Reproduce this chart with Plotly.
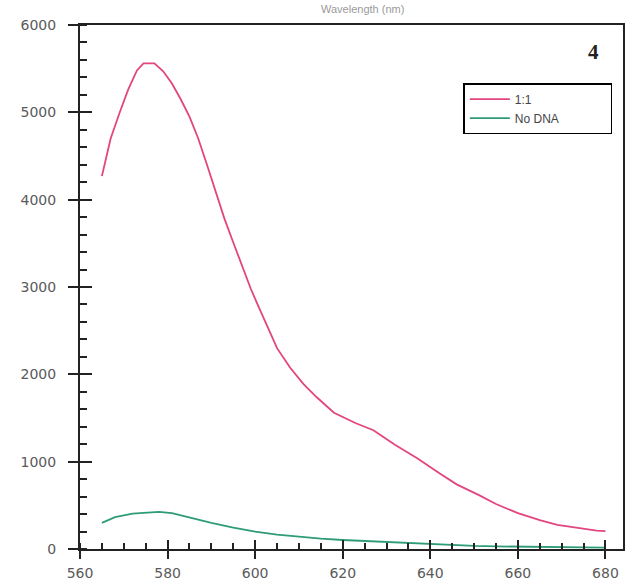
import plotly.graph_objects as go

# ---- data ----
wl_pink = [565, 567, 569, 571, 573, 574.5, 577, 579, 581, 583, 585, 587, 589, 591, 593,
           595, 597, 599, 601, 603, 605, 608, 611, 614, 618, 623, 627, 632, 637, 642,
           646, 651, 655, 660, 665, 669, 674, 678, 680]
int_pink = [4270, 4700, 4990, 5260, 5480, 5560, 5560, 5470, 5330, 5150, 4950, 4700, 4400, 4090, 3780,
            3510, 3250, 2980, 2750, 2520, 2300, 2075, 1890, 1740, 1560, 1440, 1360, 1190, 1040, 870,
            740, 620, 515, 410, 330, 275, 237, 210, 205]

wl_green = [565, 568, 572, 575, 578, 581, 585, 590, 595, 600, 605, 610, 615, 620, 625,
            630, 635, 640, 645, 650, 655, 660, 665, 670, 675, 680]
int_green = [300, 365, 405, 418, 425, 410, 360, 300, 245, 200, 165, 138, 118, 103, 92,
             80, 65, 52, 42, 35, 30, 25, 22, 20, 18, 15]

series_names = ["1:1", "No DNA"]
x_ticks = [560, 580, 600, 620, 640, 660, 680]
y_ticks = [0, 1000, 2000, 3000, 4000, 5000, 6000]
panel_label = "4"
top_title = "Wavelength (nm)"

PINK = "#e2457f"
GREEN = "#2e9c74"
TICKFONT = dict(family="DejaVu Sans", size=14, color="#5a5a5a")
XR = [560, 684]
YR = [0, 6000]

fig = go.Figure()
fig.add_trace(go.Scatter(x=wl_pink, y=int_pink, mode="lines", name=series_names[0] + "                     ",
                         line=dict(color=PINK, width=1.8)))
fig.add_trace(go.Scatter(x=wl_green, y=int_green, mode="lines", name=series_names[1] + "              ",
                         line=dict(color=GREEN, width=1.8)))
# invisible trace to activate overlay axes (inner half of crossing major ticks)
fig.add_trace(go.Scatter(x=wl_green, y=int_green, mode="lines", xaxis="x2", yaxis="y2",
                         line=dict(width=0), opacity=0, showlegend=False, hoverinfo="skip"))

fig.update_layout(
    width=626, height=582,
    margin=dict(l=80, r=1, t=25, b=33),
    paper_bgcolor="white", plot_bgcolor="white",
    showlegend=True,
    legend=dict(x=0.706, y=0.889, xanchor="left", yanchor="top",
                bgcolor="white", bordercolor="black", borderwidth=1.5,
                font=dict(family="Liberation Sans", size=12, color="#444"),
                tracegroupgap=0, itemwidth=40),
    xaxis=dict(range=XR, tickvals=x_ticks, ticktext=[str(v) for v in x_ticks],
               showgrid=False, zeroline=False,
               showline=True, linecolor="#222", linewidth=2, mirror=True,
               ticks="outside", ticklen=8, tickwidth=2, tickcolor="#222",
               minor=dict(ticks="inside", dtick=5, tick0=560, ticklen=6, tickwidth=1.5, tickcolor="#222", showgrid=False),
               tickfont=TICKFONT, ticklabelstandoff=2),
    yaxis=dict(range=YR, tickvals=y_ticks, ticktext=[str(v) for v in y_ticks],
               showgrid=False, zeroline=False,
               showline=True, linecolor="#222", linewidth=2, mirror=True,
               ticks="outside", ticklen=10, tickwidth=1.5, tickcolor="#222",
               minor=dict(ticks="inside", dtick=200, tick0=0, ticklen=7, tickwidth=1.5, tickcolor="#222", showgrid=False),
               tickfont=TICKFONT, ticklabelstandoff=9),
    xaxis2=dict(range=XR, overlaying="x", anchor="y2", side="bottom", tickvals=x_ticks,
                showticklabels=False, showgrid=False, zeroline=False, showline=False,
                ticks="inside", ticklen=9, tickwidth=2, tickcolor="#222"),
    yaxis2=dict(range=YR, overlaying="y", anchor="x2", side="left", tickvals=y_ticks,
                showticklabels=False, showgrid=False, zeroline=False, showline=False,
                ticks="inside", ticklen=12, tickwidth=1.5, tickcolor="#222"),
    annotations=[
        dict(text="<b>" + panel_label + "</b>", xref="paper", yref="paper", x=0.945, y=0.975,
             xanchor="center", yanchor="top", showarrow=False,
             font=dict(family="Liberation Serif", size=21, color="#222")),
        dict(text=top_title, xref="paper", yref="paper", x=0.52, y=1, xanchor="center",
             yanchor="bottom", yshift=8, showarrow=False,
             font=dict(family="Liberation Sans", size=11, color="#9a9a9a")),
    ],
)

fig.write_html("out.html", config={"displayModeBar": False},
               post_script="document.body.style.margin='0';document.body.style.overflow='hidden';")
